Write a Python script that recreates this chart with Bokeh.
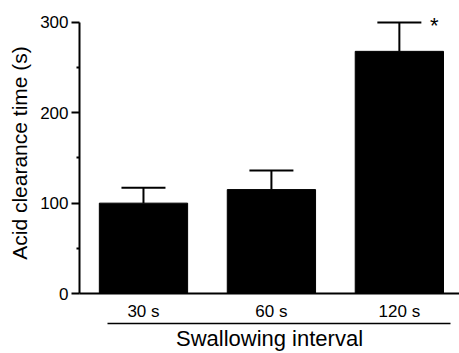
from bokeh.plotting import figure
from bokeh.models import (ColumnDataSource, FixedTicker, LinearAxis, Whisker, TeeHead)
from bokeh.core.properties import value
from bokeh.embed import file_html
from bokeh.resources import INLINE

# Data
categories = ["30 s", "60 s", "120 s"]
means = [100, 115, 268]
upper_err = [117, 136, 300]
significant = ["", "", "*"]
y_ticks = [0, 100, 200, 300]
y_minor = [50, 150, 250]
y_label = "Acid clearance time (s)"
x_label = "Swallowing interval"

xs = list(range(1, len(categories) + 1))
src = ColumnDataSource(dict(x=xs, top=means, upper=upper_err, sig=significant))

FONT = "Liberation Sans"

p = figure(width=459, height=353, x_range=(0.5, 3.47), y_range=(0, 311),
           output_backend="svg", toolbar_location=None,
           min_border_left=79, min_border_right=0, min_border_top=12,
           min_border_bottom=60)
p.outline_line_color = None
p.xgrid.visible = False
p.ygrid.visible = False
p.background_fill_color = "white"
p.border_fill_color = "white"

p.vbar(x="x", top="top", width=0.69, source=src, fill_color="black", line_color="black")

w = Whisker(source=src, base="x", upper="upper", lower="top",
            upper_head=TeeHead(size=44, line_width=2, line_color="black"),
            lower_head=None, line_width=2, line_color="black")
p.add_layout(w)

p.text(x="x", y="upper", text="sig", source=src, x_offset=35, y_offset=3,
       text_font=value(FONT), text_font_size="22px", text_align="center",
       text_baseline="middle", text_color="black")

# Y axis
ya = p.yaxis[0]
ya.ticker = FixedTicker(ticks=y_ticks, minor_ticks=y_minor)
ya.bounds = (0, 300)
ya.axis_line_width = 2
ya.major_tick_line_width = 2
ya.minor_tick_line_width = 2
ya.major_tick_out = 8
ya.major_tick_in = 0
ya.minor_tick_out = 3
ya.minor_tick_in = 0
ya.major_label_standoff = 3
ya.major_label_text_font = FONT
ya.major_label_text_font_size = "17px"
ya.major_label_text_color = "black"
ya.axis_label = y_label
ya.axis_label_text_font = FONT
ya.axis_label_text_font_size = "21px"
ya.axis_label_text_font_style = "normal"
ya.axis_label_text_color = "black"
ya.axis_label_standoff = 6

# X axis (category labels)
xa = p.xaxis[0]
xa.ticker = FixedTicker(ticks=xs, minor_ticks=[])
xa.major_label_overrides = {x: c for x, c in zip(xs, categories)}
xa.axis_line_width = 2
xa.major_tick_out = 0
xa.major_tick_in = 0
xa.minor_tick_out = 0
xa.minor_tick_in = 0
xa.major_label_standoff = 8
xa.major_label_text_font = FONT
xa.major_label_text_font_size = "17px"
xa.major_label_text_color = "black"

# Second axis: underline + title
xa2 = LinearAxis(ticker=FixedTicker(ticks=[], minor_ticks=[]), bounds=(0.718, 3.403))
xa2.axis_line_width = 1.5
xa2.major_tick_out = 0
xa2.major_tick_in = 0
xa2.minor_tick_out = 0
xa2.minor_tick_in = 0
xa2.major_label_standoff = 0
xa2.axis_label = x_label
xa2.axis_label_text_font = FONT
xa2.axis_label_text_font_size = "22px"
xa2.axis_label_text_font_style = "normal"
xa2.axis_label_text_color = "black"
xa2.axis_label_standoff = 2
p.add_layout(xa2, "below")

open("out.html", "w").write(file_html(p, INLINE))
